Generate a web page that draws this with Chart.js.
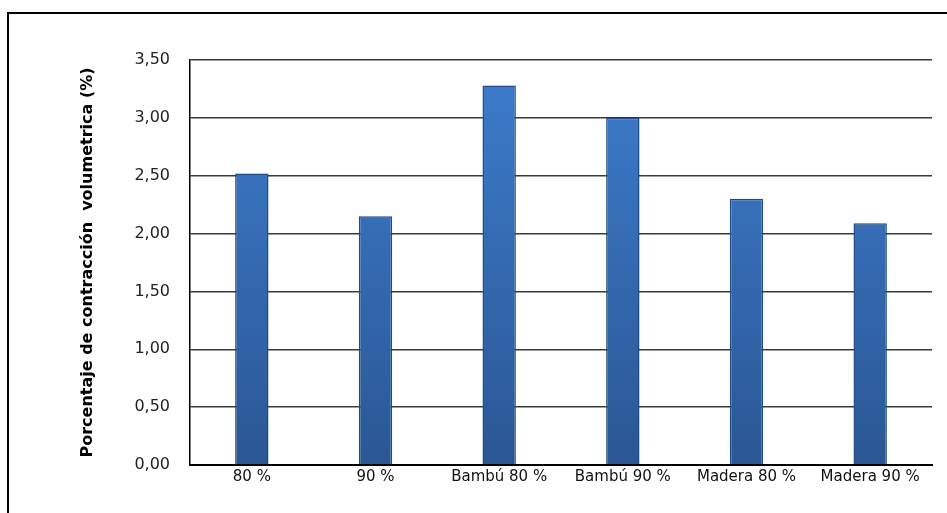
<!DOCTYPE html>
<html>
<head>
<meta charset="utf-8">
<script src="https://cdn.jsdelivr.net/npm/chart.js@4"></script>
<style>
  html, body { margin: 0; padding: 0; background: #fff; overflow: hidden; }
  #frame {
    position: absolute; left: 7px; top: 12px;
    width: 1000px; height: 600px;
    border-left: 2px solid #000; border-top: 2px solid #000;
  }
  #wrap { position: absolute; left: 0; top: 0; width: 947px; height: 513px; }
</style>
</head>
<body>
<div id="frame"></div>
<div id="wrap"><canvas id="chart" width="947" height="513"></canvas></div>
<script>
// Data
const categories = ["80 %", "90 %", "Bambú 80 %", "Bambú 90 %", "Madera 80 %", "Madera 90 %"];
const contraccion = [2.52, 2.15, 3.28, 3.00, 2.30, 2.09];
const yTickLabels = ["0,00", "0,50", "1,00", "1,50", "2,00", "2,50", "3,00", "3,50"];
const yTitle = "Porcentaje de contracción  volumetrica (%)";

// Bar fill: light blue at top, darker toward the base
function barFill(context) {
  const area = context.chart.chartArea;
  if (!area) return "#3a78c9";
  const g = context.chart.ctx.createLinearGradient(0, area.top, 0, area.bottom);
  g.addColorStop(0, "#3d7ccd");
  g.addColorStop(1, "#2a5794");
  return g;
}

const ctx = document.getElementById("chart").getContext("2d");

new Chart(ctx, {
  type: "bar",
  data: {
    labels: categories,
    datasets: [{
      data: contraccion,
      backgroundColor: barFill,
      borderColor: "#1f4b86",
      borderWidth: 1.5,
      categoryPercentage: 1,
      barPercentage: 0.27
    }]
  },
  options: {
    responsive: false,
    animation: false,
    layout: { padding: { top: 60, right: 15, left: 0, bottom: 0 } },
    plugins: {
      legend: { display: false },
      tooltip: { enabled: false }
    },
    scales: {
      x: {
        grid: { display: false, drawTicks: false },
        border: { display: true, color: "#000", width: 2 },
        ticks: {
          color: "#111",
          padding: 3,
          maxRotation: 0,
          autoSkip: false,
          font: { family: "DejaVu Sans", size: 15 }
        },
        afterFit: (scale) => { scale.height = 48; }
      },
      y: {
        min: 0,
        max: 3.5,
        ticks: {
          stepSize: 0.5,
          color: "#222",
          padding: 20,
          font: { family: "DejaVu Sans", size: 16 },
          callback: (value, index) => yTickLabels[index]
        },
        grid: {
          color: "#3a3a3a",
          lineWidth: 1.5,
          drawTicks: false
        },
        border: { display: true, color: "#000", width: 1.5 },
        title: {
          display: true,
          text: yTitle,
          color: "#000",
          font: { family: "DejaVu Sans", size: 16, weight: "bold" },
          padding: { top: 78, bottom: 0 }
        },
        afterFit: (scale) => { scale.width = 190; }
      }
    }
  }
});
</script>
</body>
</html>
